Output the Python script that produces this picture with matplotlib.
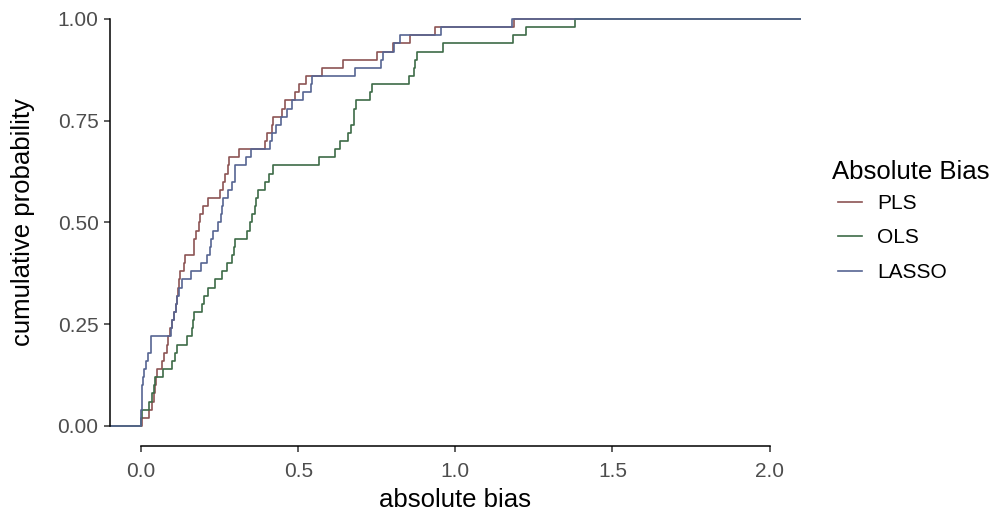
import numpy as np
import matplotlib
matplotlib.use("Agg")
import matplotlib.pyplot as plt
from matplotlib.lines import Line2D

plt.rcParams['font.family'] = ['Liberation Sans', 'DejaVu Sans']

# --- data: sorted absolute bias values, 50 per method ---
pls = [0.002, 0.024, 0.034, 0.040, 0.044, 0.048, 0.050, 0.068, 0.074, 0.081,
       0.087, 0.092, 0.097, 0.105, 0.112, 0.115, 0.118, 0.122, 0.124, 0.135,
       0.140, 0.167, 0.168, 0.175, 0.183, 0.188, 0.198, 0.212, 0.252, 0.262,
       0.266, 0.278, 0.280, 0.313, 0.393, 0.400, 0.416, 0.421, 0.448, 0.458,
       0.490, 0.504, 0.525, 0.575, 0.644, 0.750, 0.803, 0.857, 0.936, 1.187]

ols = [0.001, 0.003, 0.024, 0.034, 0.041, 0.045, 0.070, 0.097, 0.108, 0.113,
       0.146, 0.162, 0.166, 0.167, 0.193, 0.200, 0.212, 0.236, 0.257, 0.273,
       0.289, 0.296, 0.300, 0.336, 0.346, 0.354, 0.363, 0.367, 0.372, 0.395,
       0.406, 0.419, 0.565, 0.618, 0.632, 0.660, 0.667, 0.676, 0.678, 0.685,
       0.727, 0.735, 0.852, 0.867, 0.873, 0.878, 0.960, 1.184, 1.224, 1.382]

lasso = [0.000, 0.001, 0.002, 0.003, 0.004, 0.005, 0.008, 0.017, 0.022, 0.030,
         0.033, 0.094, 0.098, 0.104, 0.110, 0.113, 0.120, 0.130, 0.160, 0.190,
         0.210, 0.218, 0.222, 0.228, 0.245, 0.255, 0.258, 0.262, 0.275, 0.290,
         0.298, 0.300, 0.335, 0.350, 0.410, 0.415, 0.430, 0.445, 0.465, 0.480,
         0.515, 0.540, 0.545, 0.680, 0.765, 0.770, 0.805, 0.825, 0.955, 1.180]

methods = ['PLS', 'OLS', 'LASSO']
series = [pls, ols, lasso]
colors = ['#8C5454', '#3D6B47', '#566592']

x_lim = (-0.1, 2.1)
y_lim = (-0.05, 1.05)

fig = plt.figure(figsize=(9.97, 5.13), dpi=100)
ax = fig.add_axes([0.110, 0.130, 0.6934, 0.8727])

for vals, col in zip(series, colors):
    v = np.sort(np.asarray(vals))
    n = len(v)
    xs = np.concatenate([[x_lim[0] - 1], v, [x_lim[1] + 1]])
    ys = np.concatenate([[0], np.arange(1, n + 1) / n, [1]])
    ax.step(xs, ys, where='post', color=col, lw=1.2)

ax.set_xlim(*x_lim)
ax.set_ylim(*y_lim)
ax.set_xticks([0.0, 0.5, 1.0, 1.5, 2.0])
ax.set_xticklabels(['0.0', '0.5', '1.0', '1.5', '2.0'])
ax.set_yticks([0.0, 0.25, 0.5, 0.75, 1.0])
ax.set_yticklabels(['0.00', '0.25', '0.50', '0.75', '1.00'])

for s in ['top', 'right']:
    ax.spines[s].set_visible(False)
ax.spines['left'].set_bounds(0, 1)
ax.spines['bottom'].set_bounds(0, 2)
for s in ['left', 'bottom']:
    ax.spines[s].set_linewidth(1.1)
    ax.spines[s].set_color('black')

ax.tick_params(axis='both', length=4, width=1.1, color='#333333',
               labelcolor='#4D4D4D', labelsize=15)
ax.tick_params(axis='x', pad=7)
ax.tick_params(axis='y', pad=4)

ax.set_xlabel('absolute bias', fontsize=18.5, color='black', labelpad=5)
ax.set_ylabel('cumulative probability', fontsize=18.5, color='black', labelpad=16)

# legend: title as its own text, keys slightly indented like ggplot
fig.text(832 / 997, 1 - 172 / 513, 'Absolute Bias', fontsize=18.5,
         ha='left', va='center')
handles = [Line2D([], [], color=c, lw=1.2) for c in colors]
leg = fig.legend(handles, methods, loc='upper left',
                 bbox_to_anchor=(838 / 997, 1 - 194 / 513), frameon=False,
                 fontsize=15, handlelength=1.15, handletextpad=0.72,
                 labelspacing=0.74, borderaxespad=0, borderpad=0)

fig.savefig('out.png', dpi=100)
